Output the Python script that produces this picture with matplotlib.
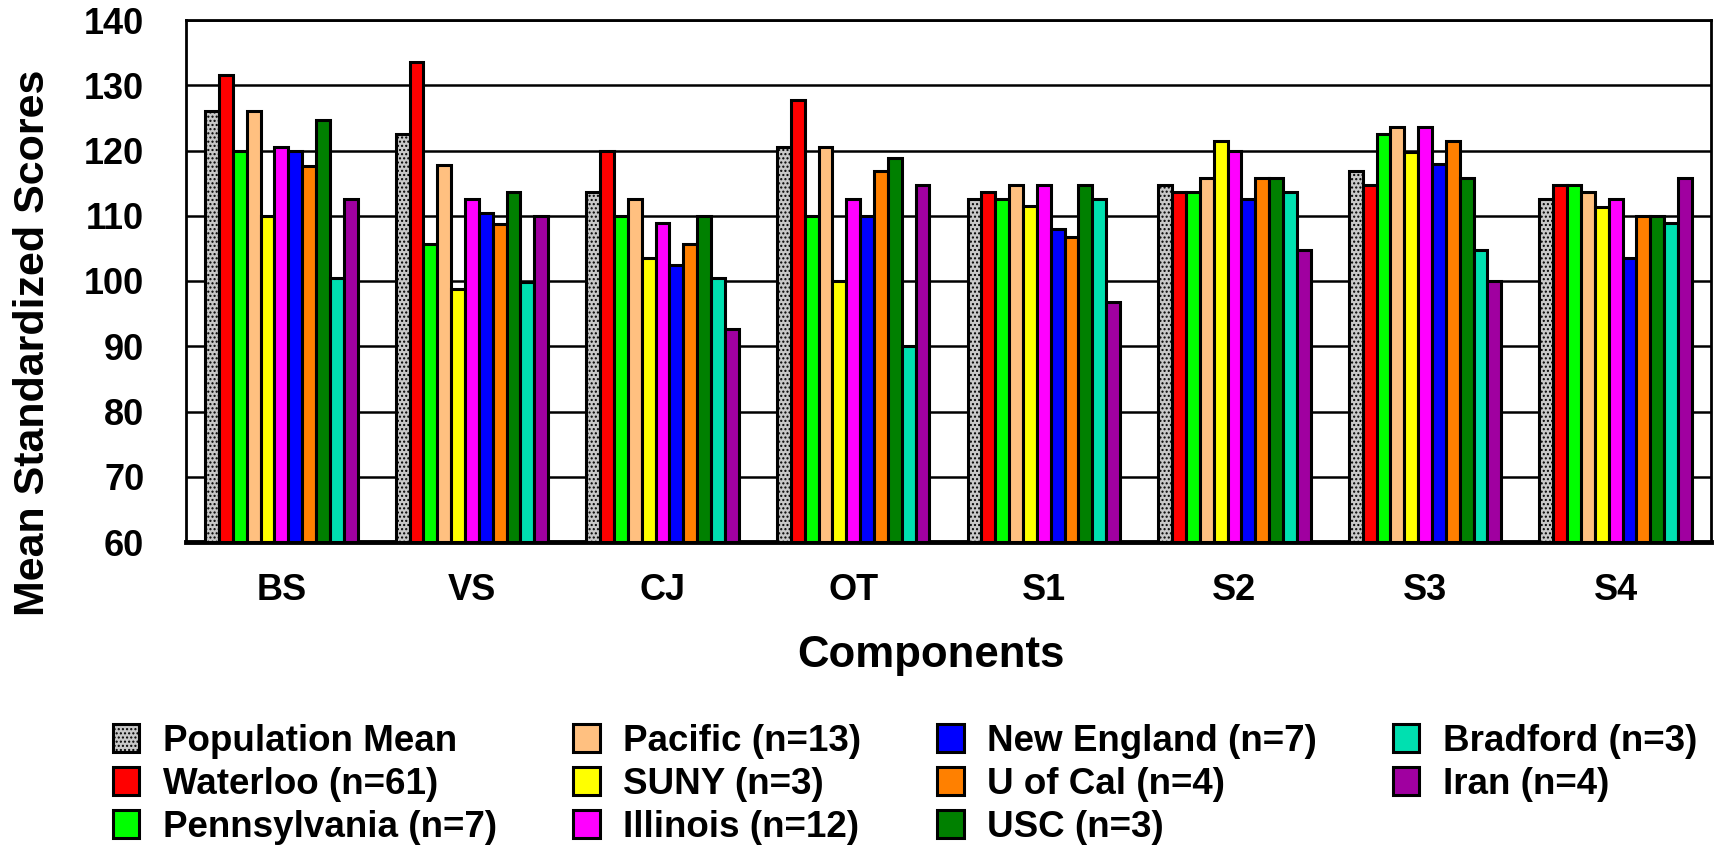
import matplotlib
matplotlib.use('Agg')
import matplotlib.pyplot as plt
import numpy as np

plt.rcParams['font.family'] = ['Liberation Sans', 'DejaVu Sans']
plt.rcParams['font.weight'] = 'bold'
plt.rcParams['hatch.linewidth'] = 1.0

# Components on the x axis
components = ['BS', 'VS', 'CJ', 'OT', 'S1', 'S2', 'S3', 'S4']

# Mean standardized scores per group
pop_mean = [126, 122.5, 113.6, 120.5, 112.6, 114.7, 116.8, 112.6]
waterloo = [131.5, 133.6, 120, 127.8, 113.6, 113.6, 114.7, 114.7]
pennsylvania = [120, 105.6, 110, 110, 112.6, 113.6, 122.6, 114.7]
pacific = [126, 117.8, 112.6, 120.5, 114.7, 115.8, 123.6, 113.6]
suny = [110, 98.8, 103.6, 100, 111.5, 121.5, 119.8, 111.4]
illinois = [120.5, 112.6, 108.9, 112.6, 114.7, 119.9, 123.6, 112.6]
new_england = [120, 110.4, 102.5, 110, 107.9, 112.6, 117.9, 103.6]
u_of_cal = [117.7, 108.8, 105.7, 116.8, 106.8, 115.8, 121.5, 110]
usc = [124.6, 113.6, 110, 118.9, 114.7, 115.8, 115.8, 110]
bradford = [100.4, 99.8, 100.5, 90, 112.6, 113.6, 104.7, 108.9]
iran = [112.6, 110, 92.6, 114.7, 96.8, 104.7, 100, 115.8]

labels = ['Population Mean', 'Waterloo (n=61)', 'Pennsylvania (n=7)',
          'Pacific (n=13)', 'SUNY (n=3)', 'Illinois (n=12)',
          'New England (n=7)', 'U of Cal (n=4)', 'USC (n=3)',
          'Bradford (n=3)', 'Iran (n=4)']
series = [pop_mean, waterloo, pennsylvania, pacific, suny, illinois,
          new_england, u_of_cal, usc, bradford, iran]
colors = ['#c8c8c8', '#ff0000', '#00ff00', '#ffc080', '#ffff00', '#ff00ff',
          '#0000ff', '#ff8000', '#008000', '#00e0b0', '#a000a0']

W, H = 1736, 868
fig = plt.figure(figsize=(W / 100, H / 100), dpi=100)
ax = fig.add_axes([186 / W, 1 - 542 / H, (1711 - 186) / W, (542 - 20) / H])

x = np.arange(len(components))
n = len(series)
bw = 0.8 / n
for i, (vals, lab, col) in enumerate(zip(series, labels, colors)):
    pos = x - 0.4 + bw * (i + 0.5)
    ax.bar(pos, np.array(vals) - 60, bw, bottom=60, color=col,
           edgecolor='black', linewidth=2.2, label=lab,
           hatch='....' if i == 0 else None, zorder=3)

ax.set_xlim(-0.5, len(components) - 0.5)
ax.set_ylim(60, 140)
ax.set_yticks(np.arange(60, 141, 10))
ax.yaxis.grid(True, color='black', linewidth=1.8)
ax.set_axisbelow(True)
ax.set_xticks(x)
ax.set_xticklabels(components, fontsize=26, fontweight='bold')
ax.tick_params(axis='y', length=0, pad=30, labelsize=26)
ax.tick_params(axis='x', length=0, pad=22)
for s in ['left', 'top', 'right']:
    ax.spines[s].set_linewidth(2)
ax.spines['bottom'].set_linewidth(3.5)

fig.text(33 / W, 1 - 343 / H, 'Mean Standardized Scores', rotation=90,
         ha='center', va='center', fontsize=31, fontweight='bold')
fig.text(931 / W, 1 - 655 / H, 'Components', ha='center', va='center',
         fontsize=31.5, fontweight='bold')

leg = fig.legend(loc='upper left', bbox_to_anchor=(113 / W, 1 - 724 / H),
                 ncol=4, frameon=False, fontsize=26.5, borderpad=0,
                 borderaxespad=0, handlelength=0.72, handleheight=0.8,
                 handletextpad=0.65, columnspacing=2.05, labelspacing=0.22)

fig.savefig('out.png', dpi=100)
